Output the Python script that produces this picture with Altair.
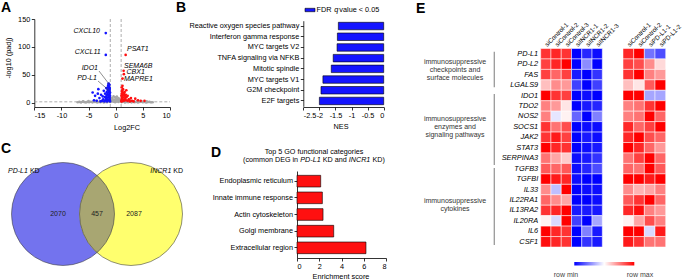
import altair as alt
import pandas as pd

FONT = "Liberation Sans"

# ---------------- A: volcano plot ----------------
gray_x = [-7.0,-6.7,-6.4,-6.1,-5.8,-5.5,-5.2,-4.9,-4.6,-4.3,-4.0,-3.7,-3.4,-3.1,-2.8,-2.5,-2.2,-1.9,-1.6,-1.3,
          -1.0,-0.7,-0.4,-0.1,0.2,0.5,0.8,1.1,1.4,1.7,2.0,2.3,2.6,2.9,3.2,3.5,3.8,4.1,4.4,4.7,5.0,5.3,5.6,5.9,6.2,6.5,6.8,
          -6.0,-5.0,-4.1,-3.5,-2.9,-2.4,-2.0,-1.5,-1.1,-0.8,-0.5,-0.2,0.1,0.4,0.7,1.0,1.3,1.8,2.2,2.8,3.4,4.0,4.8,5.7,
          -0.9,-0.6,-0.3,0.0,0.3,0.6,0.9,-0.7,-0.1,0.5,-0.4,0.2]
gray_y = [0.5,1.1,0.3,1.4,0.8,0.2,1.2,0.6,1.5,0.4,0.9,1.3,0.2,1.0,0.7,1.6,0.3,1.2,0.5,1.8,
          0.9,2.2,1.4,0.6,1.9,1.1,2.4,0.8,1.5,0.3,1.2,0.7,1.6,0.4,1.0,0.6,1.3,0.2,0.9,1.4,0.5,1.1,0.3,0.8,1.2,0.4,0.6,
          2.0,2.6,2.2,3.0,2.4,3.2,2.8,3.4,3.0,3.8,3.3,4.0,3.6,4.2,3.5,3.1,2.9,3.3,2.5,2.8,2.2,2.6,2.1,2.3,
          5.0,6.5,4.8,7.0,5.6,6.2,4.5,8.5,9.5,8.0,11.0,10.5]
down_x = [-1.05,-1.1,-1.15,-1.1,-1.2,-1.05,-1.25,-1.1,-1.3,-1.15,-1.2,-1.35,-1.1,-1.25,-1.4,-1.15,-1.3,-1.5,-1.6,-1.45,
          -1.7,-1.55,-1.8,-1.9,-2.0,-1.65,-1.5,-1.75,-1.45,-2.1,-2.3,-1.35,-1.25,-1.05,-1.15,-1.6,-2.5,-1.95,
          -4.25,-3.2,-2.2,-3.8,-4.0,-3.0,-2.7,-3.5,-2.8,-2.4,-3.3]
down_y = [2,4,6,8,10,12,14,16,18,20,22,24,26,28,30,32,34,3,6,9,
          12,15,8,4,10,19,23,26,27,2,6,12,5,18,24,2,3,16,
          18,24,21,12,4,8,14,3,2,11,16]
up_x = [1.05,1.1,1.15,1.1,1.2,1.05,1.25,1.1,1.3,1.15,1.2,1.35,1.1,1.25,1.5,1.6,1.45,1.7,1.55,1.8,
        1.9,2.0,1.65,1.4,1.3,2.2,2.4,2.6,1.85,1.15,
        2.5,3.0,3.6,4.1,4.6,5.3,2.2,2.8,3.3,1.95]
up_y = [2,4,6,8,10,12,14,16,18,20,22,24,27,30,3,6,9,12,15,8,
        4,10,19,13,5,3,6,2,14,2.5,
        5,3,7,4,3,3,12,8,2,22]
named_genes = ["CXCL10", "CXCL11", "IDO1", "PD-L1", "PSAT1", "SEMA6B", "CBX1", "MAPRE1"]
named_x = [-1.83, -1.83, -1.3, -1.35, 1.83, 1.46, 1.5, 1.25]
named_y = [124.7, 85.5, 33, 22, 85.5, 57, 51, 43]

# ---------------- B: GSEA ----------------
b_terms = ["Reactive oxygen species pathway", "Interferon gamma response", "MYC targets V2",
           "TNFA signaling via NFKB", "Mitotic spindle", "MYC targets V1", "G2M checkpoint", "E2F targets"]
b_nes = [-1.41, -1.44, -1.45, -1.57, -1.63, -1.89, -1.95, -2.0]

# ---------------- C: Venn ----------------
venn_labels = ["PD-L1 KD", "INCR1 KD"]
venn_counts = [2070, 457, 2087]

# ---------------- D: GO ----------------
d_terms = ["Endoplasmic reticulum", "Innate immune response", "Actin cytoskeleton",
           "Golgi membrane", "Extracellular region"]
d_scores = [2.13, 2.28, 2.34, 3.3, 6.2]

# ---------------- E: heatmap ----------------
genes = ["PD-L1", "PD-L2", "FAS", "LGALS9", "IDO1", "TDO2", "NOS2", "SOCS1", "JAK2", "STAT3",
         "SERPINA3", "TGFB3", "TGFBI", "IL33", "IL22RA1", "IL13RA2", "IL20RA", "IL6", "CSF1"]
cols_incr = ["siControl-1", "siControl-2", "siControl-3", "siINCR1-1", "siINCR1-2", "siINCR1-3"]
cols_pdl1 = ["siControl-1", "siControl-2", "siPD-L1-1", "siPD-L1-2"]
hm_incr = [
    [0.80, 0.85, 0.80, -1.00, -0.85, -0.95],
    [0.75, 0.85, 1.00, -1.00, -0.45, -1.00],
    [0.75, 0.60, 0.75, -0.90, -1.00, -0.80],
    [0.25, 0.45, 0.40, -0.75, -1.00, -0.75],
    [1.00, 0.80, 0.75, -1.00, -0.95, -1.00],
    [0.50, 0.40, 0.10, -1.00, -0.90, -0.85],
    [0.50, -0.10, 0.05, -0.60, -1.00, -0.50],
    [0.80, 0.55, 0.70, -1.00, -0.95, -0.95],
    [0.80, 0.90, 0.75, -1.00, -0.90, -0.95],
    [1.00, 0.85, 0.80, -1.00, -0.95, -0.90],
    [0.55, 0.35, 0.20, -0.95, -0.90, -0.80],
    [0.65, 0.60, 0.65, -0.95, -0.85, -0.70],
    [1.00, 0.90, 0.85, -0.95, -1.00, -1.00],
    [0.45, -0.25, 1.00, -1.00, -0.95, -0.95],
    [0.60, 0.45, 0.35, -1.00, -1.00, -0.95],
    [0.80, 0.85, 1.00, -0.90, -0.90, -0.90],
    [0.05, -0.15, 1.00, -0.75, -1.00, -0.35],
    [1.00, 0.85, 0.80, -1.00, -0.50, -0.90],
    [0.95, 0.85, 0.80, -1.00, -0.80, -0.90],
]
hm_pdl1 = [
    [0.85, 1.00, -0.55, -0.70],
    [0.75, 0.70, 0.45, 0.15],
    [0.80, 1.00, 0.50, 0.40],
    [0.25, 0.10, 0.65, 1.00],
    [1.00, 1.00, -0.35, -0.35],
    [0.50, 0.55, 0.80, 1.00],
    [0.50, 0.55, 1.00, 0.60],
    [0.85, 0.60, 0.75, 1.00],
    [0.85, 1.00, 0.70, 0.60],
    [1.00, 0.85, 0.60, 0.40],
    [0.55, 0.75, 1.00, 0.60],
    [0.60, 0.55, 1.00, 0.65],
    [1.00, 1.00, 0.90, 1.00],
    [0.45, 0.30, 0.35, 0.50],
    [0.65, 0.80, 1.00, 0.60],
    [0.85, 0.95, 0.50, 0.40],
    [0.05, 0.35, 0.70, 0.50],
    [1.00, 1.00, -0.15, 0.90],
    [0.90, 0.80, 0.55, 0.55],
]
group_lines = [["immunosuppressive", "checkpoints and", "surface molecules"],
               ["immunosuppressive", "enzymes and", "signaling pathways"],
               ["immunosuppressive", "cytokines"]]

BLUE = "#1414ff"
RED = "#ff1010"
GRAY = "#a6a6a6"


def txt(s, x, y, size=7.2, style="normal", weight="normal", align="left", color="black", angle=0,
        baseline="middle"):
    return alt.Chart(pd.DataFrame({"t": [s]})).mark_text(
        align=align, baseline=baseline, fontSize=size, fontStyle=style, fontWeight=weight,
        color=color, angle=angle, font=FONT
    ).encode(x=alt.value(x), y=alt.value(y), text="t:N")


def seg(x1, y1, x2, y2, color="#444", width=0.6, dash=None):
    kw = dict(color=color, strokeWidth=width)
    if dash:
        kw["strokeDash"] = dash
    return alt.Chart(pd.DataFrame({"a": [0]})).mark_rule(**kw).encode(
        x=alt.value(x1), x2=alt.value(x2), y=alt.value(y1), y2=alt.value(y2))


layers = []

# ---- A ----
vdf = pd.DataFrame({
    "x": gray_x + down_x + up_x + named_x,
    "y": gray_y + down_y + up_y + named_y,
    "c": [GRAY] * len(gray_x) + [BLUE] * len(down_x) + [RED] * len(up_x)
         + [BLUE if v < 0 else RED for v in named_x],
})
VX = alt.X("x:Q", title="Log2FC",
           scale=alt.Scale(domain=[-15, 10], range=[34.3, 170], nice=False, zero=False),
           axis=alt.Axis(orient="bottom", offset=-173, values=[-15, -10, -5, 0, 5, 10],
                         labelExpr="'' + datum.value", title=None))
VY = alt.Y("y:Q", title="-log10 (padj)",
           scale=alt.Scale(domain=[-8, 150], range=[107, 19], nice=False, zero=False),
           axis=alt.Axis(orient="left", offset=-34.3, values=[0, 50, 100, 150],
                         labelExpr="'' + datum.value", title=None))
pts = alt.Chart(vdf).mark_circle(size=7, opacity=1).encode(
    x=VX, y=VY, color=alt.Color("c:N", scale=None))
thr_v = pd.DataFrame({"x": [-1, 1], "y": [-8, -8], "y2": [150, 150]})
vr = alt.Chart(thr_v).mark_rule(color="#999", strokeWidth=0.8, strokeDash=[3, 2]).encode(
    x=VX, y=VY, y2="y2:Q")
thr_h = pd.DataFrame({"x": [-15], "x2": [10], "y": [1.3]})
hr = alt.Chart(thr_h).mark_rule(color="#999", strokeWidth=0.8, strokeDash=[3, 2]).encode(
    x=VX, x2="x2:Q", y=VY)
layers.append(alt.layer(vr, hr, pts))

# ---- B ----
bdf = pd.DataFrame({"term": b_terms, "nes": b_nes})
barB = alt.Chart(bdf).mark_bar(color=BLUE, stroke="black", strokeWidth=0.6).encode(
    x=alt.X("nes:Q", scale=alt.Scale(domain=[-2.5, 0], range=[303.3, 383.7], nice=False),
            axis=alt.Axis(orient="bottom", offset=-173, values=[-2.5, -2, -1.5, -1, -0.5, 0],
                          labelExpr="'' + datum.value", title=None)),
    y=alt.Y("term:N", sort=b_terms,
            scale=alt.Scale(range=[20.7, 106.3], paddingInner=0.3, paddingOuter=0.15),
            axis=alt.Axis(orient="left", offset=-303.3, title=None, labelPadding=1.5)),
)
layers.append(barB)

# ---- D ----
ddf = pd.DataFrame({"term": d_terms, "score": d_scores})
barD = alt.Chart(ddf).mark_bar(color=RED, stroke="black", strokeWidth=0.6).encode(
    x=alt.X("score:Q", scale=alt.Scale(domain=[0, 8], range=[297, 386], nice=False),
            axis=alt.Axis(orient="bottom", offset=-22, values=[0, 2, 4, 6, 8], title=None)),
    y=alt.Y("term:N", sort=d_terms,
            scale=alt.Scale(range=[171, 258], paddingInner=0.3, paddingOuter=0.26),
            axis=alt.Axis(orient="left", offset=-297, title=None, labelPadding=1.5)),
)
layers.append(barD)

# ---- E ----
rows1 = [{"gene": g, "col": c, "v": hm_incr[i][j]} for i, g in enumerate(genes) for j, c in enumerate(cols_incr)]
rows2 = [{"gene": g, "col": c, "v": hm_pdl1[i][j]} for i, g in enumerate(genes) for j, c in enumerate(cols_pdl1)]
CSCALE = alt.Scale(domain=[-1, 0, 1], range=["#0000ff", "#ffffff", "#ff0000"], interpolate="rgb")
HY = alt.Scale(range=[48.5, 247], paddingInner=0, paddingOuter=0)
hm1 = alt.Chart(pd.DataFrame(rows1)).mark_rect(stroke="white", strokeWidth=0.5, opacity=1).encode(
    x=alt.X("col:N", sort=cols_incr, scale=alt.Scale(range=[540.7, 602.3], paddingInner=0, paddingOuter=0),
            axis=alt.Axis(orient="top", offset=-46, labelAngle=-45, labelAlign="left", labelBaseline="middle",
                          domain=False, ticks=False, tickSize=0, labelPadding=1, title=None,
                          labelFontSize=6.3, labelOverlap=False)),
    y=alt.Y("gene:N", sort=genes, scale=HY,
            axis=alt.Axis(orient="left", offset=-540.7, domain=False, ticks=False, tickSize=0,
                          labelPadding=3, labelFontStyle="italic", labelFontSize=7.4, title=None,
                          labelOverlap=False)),
    color=alt.Color("v:Q", scale=CSCALE,
                    legend=alt.Legend(orient="none", legendX=574.3, legendY=262, direction="horizontal",
                                      gradientLength=60, gradientThickness=3.5, title=None,
                                      values=[-1, 1], labelExpr="''", gradientStrokeWidth=0)),
)
hm2 = alt.Chart(pd.DataFrame(rows2)).mark_rect(stroke="white", strokeWidth=0.5, opacity=1).encode(
    x=alt.X("col:N", sort=cols_pdl1, scale=alt.Scale(range=[623, 665.7], paddingInner=0, paddingOuter=0),
            axis=alt.Axis(orient="top", offset=-46, labelAngle=-45, labelAlign="left", labelBaseline="middle",
                          domain=False, ticks=False, tickSize=0, labelPadding=1, title=None,
                          labelFontSize=6.3, labelOverlap=False)),
    y=alt.Y("gene:N", sort=genes, scale=HY, axis=None),
    color=alt.Color("v:Q", scale=CSCALE, legend=None),
)
layers += [hm1, hm2]

# ---- C: Venn ----
def disc(x, y, size, **kw):
    return alt.Chart(pd.DataFrame({"a": [0]})).mark_point(**kw).encode(
        x=alt.value(x), y=alt.value(y), size=alt.value(size))

VS = 103 * 103
layers.append(disc(63, 214, VS, shape="circle", filled=True, fill="#7373ee", opacity=1, strokeWidth=0))
layers.append(disc(131, 214, VS, shape="circle", filled=True, fill="#ffff6e", opacity=1, strokeWidth=0))
layers.append(disc(97, 214, VS, shape="M0,-0.7515A1,1,0,0,1,0,0.7515A1,1,0,0,1,0,-0.7515Z",
                   filled=True, fill="#a8a672", opacity=1, strokeWidth=0))
layers.append(disc(63, 214, VS, shape="circle", filled=False, stroke="#444", strokeWidth=0.6, opacity=1))
layers.append(disc(131, 214, VS, shape="circle", filled=False, stroke="#444", strokeWidth=0.6, opacity=1))

# ---- text annotations ----
T = []
# panel letters
T += [txt("A", 1, 12, 14, weight="bold", baseline="alphabetic"),
      txt("B", 176, 12, 14, weight="bold", baseline="alphabetic"),
      txt("C", 1, 153, 14, weight="bold", baseline="alphabetic"),
      txt("D", 211, 157, 14, weight="bold", baseline="alphabetic"),
      txt("E", 416, 13, 14, weight="bold", baseline="alphabetic")]
# A
T += [txt("-log10 (padj)", 9, 58, 7.3, angle=270, align="center"),
      txt("Log2FC", 127, 128, 7.3, align="center")]
T += [txt(named_genes[0], 100, 31, 7, style="italic", align="right"),
      txt(named_genes[1], 100.7, 52, 7, style="italic", align="right"),
      txt(named_genes[2], 98, 68, 7, style="italic", align="right"),
      txt(named_genes[3], 97, 78, 7, style="italic", align="right"),
      txt(named_genes[4], 127, 49, 7, style="italic"),
      txt(named_genes[5], 124, 65.5, 7, style="italic"),
      txt(named_genes[6], 126.5, 71.5, 7, style="italic"),
      txt(named_genes[7], 124, 79, 7, style="italic")]
T += [seg(99, 71, 109, 84), seg(98, 81, 108.5, 90)]
# B
T += [alt.Chart(pd.DataFrame({"a": [0]})).mark_rect(color=BLUE, stroke="black", strokeWidth=0.6).encode(
          x=alt.value(305), x2=alt.value(315), y=alt.value(8.3), y2=alt.value(11.7)),
      txt("FDR", 316.5, 10.3, 7.3), txt("q", 334.3, 10.3, 7.3, style="italic"),
      txt("value < 0.05", 339.3, 10.3, 7.3),
      txt("NES", 341, 126.5, 7.3, align="center")]
# C
T += [txt("PD-L1", 8, 171, 7, style="italic"), txt("KD", 29.9, 171, 7),
      txt("INCR1", 150.3, 171, 7, style="italic"), txt("KD", 173.3, 171, 7),
      txt(str(venn_counts[0]), 58, 214, 7, align="center", color="#222"),
      txt(str(venn_counts[1]), 97, 214, 7, align="center", color="#222"),
      txt(str(venn_counts[2]), 134, 214, 7, align="center", color="#222")]
# D
T += [txt("Top 5 GO functional categories", 314, 152, 7.2, align="center"),
      txt("(common DEG in", 243, 159.5, 7.2), txt("PD-L1", 300.3, 159.5, 7.2, style="italic"),
      txt("KD and", 322.7, 159.5, 7.2), txt("INCR1", 348.8, 159.5, 7.2, style="italic"),
      txt("KD)", 372.4, 159.5, 7.2),
      txt("Enrichment score", 341, 276.5, 7.3, align="center")]
# E group labels
g_y = [[61.7, 69.7, 77.7], [119, 127, 135], [201, 209]]
for lines, ys in zip(group_lines, g_y):
    for s, yy in zip(lines, ys):
        T.append(txt(s, 455, yy, 7, align="center", color="#333"))
T += [seg(494.3, 51.7, 494.3, 87.3, color="#999", width=1.3),
      seg(494.3, 94, 494.3, 165, color="#999", width=1.3),
      seg(494.3, 168, 494.3, 245, color="#999", width=1.3)]
T += [txt("row min", 566, 274.5, 7, align="center", color="#444"),
      txt("row max", 640, 274.5, 7, align="center", color="#444")]
layers += T

chart = alt.layer(*layers).resolve_scale(
    x="independent", y="independent", color="independent"
).resolve_axis(x="independent", y="independent").resolve_legend(color="independent").properties(
    width=685, height=280, autosize=alt.AutoSizeParams(type="none"), padding=0
).configure_view(stroke=None).configure_axis(
    grid=False, labelFont=FONT, labelFontSize=7.3, labelColor="black", domainColor="black",
    tickColor="black", tickSize=3, domainWidth=0.8, tickWidth=0.8, labelPadding=1.5
).configure_text(font=FONT)

chart.save("out.html", embed_options={"renderer": "svg", "actions": False})
